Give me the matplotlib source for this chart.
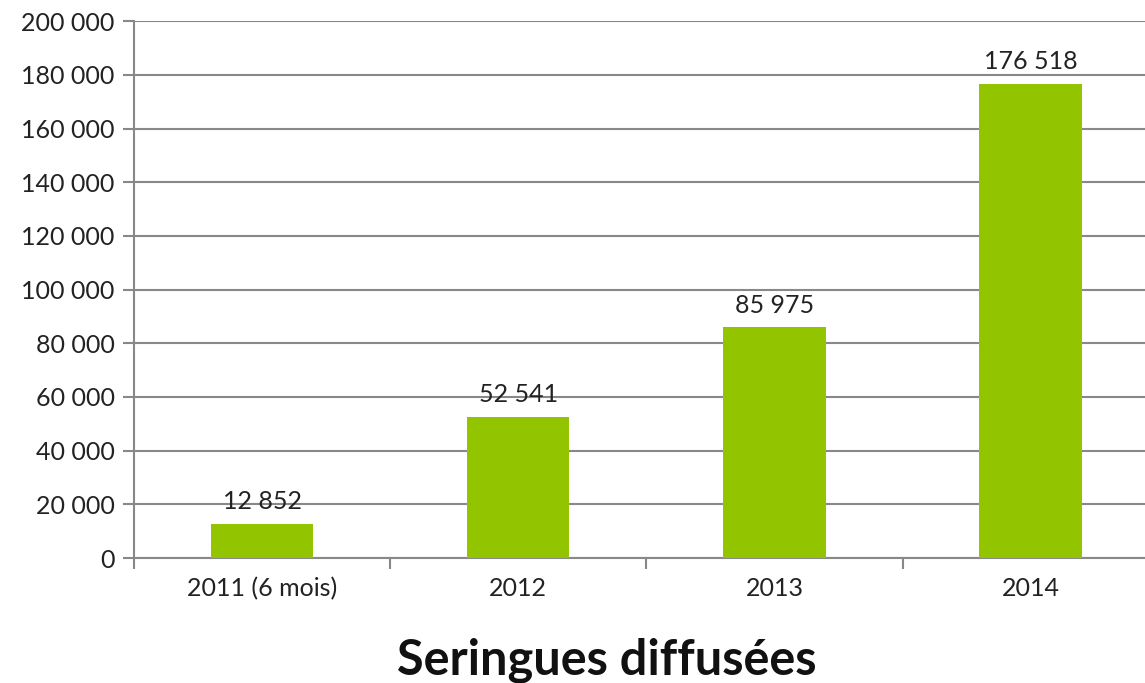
import matplotlib.pyplot as plt
import numpy as np

plt.rcParams['font.family'] = ['Lato', 'DejaVu Sans']

annees = ['2011 (6 mois)', '2012', '2013', '2014']
seringues = [12852, 52541, 85975, 176518]
yticks = np.arange(0, 200001, 20000)

def fmt(v):
    return '{:,}'.format(int(v)).replace(',', ' ')

fig = plt.figure(figsize=(11.45, 6.83), dpi=100)
ax = fig.add_axes([0.117, 0.183, 0.895, 0.786])

x = np.arange(len(annees))
ax.bar(x, seringues, width=0.4, color='#92c500', zorder=3)
for xi, v in zip(x, seringues):
    ax.text(xi, v + 4000, fmt(v), ha='center', va='bottom', fontsize=18, color='#222222')

ax.set_ylim(0, 200000)
ax.set_xlim(-0.5, len(annees) - 0.5)
ax.set_yticks(yticks)
ax.set_yticklabels([fmt(t) for t in yticks], fontsize=18, color='#222222')
ax.yaxis.grid(True, color='#888888', linewidth=1.5, zorder=0)

ax.set_xticks(x)
ax.set_xticklabels(annees, fontsize=18, color='#222222')
ax.tick_params(axis='x', length=0, pad=14)
ax.set_xticks(np.arange(-0.5, len(annees)), minor=True)
ax.tick_params(axis='x', which='minor', length=8, width=1.5, color='#888888')
ax.tick_params(axis='y', length=8, width=1.5, color='#888888', pad=6)

for s in ['top', 'right']:
    ax.spines[s].set_visible(False)
for s in ['left', 'bottom']:
    ax.spines[s].set_color('#888888')
    ax.spines[s].set_linewidth(1.5)

fig.text(0.53, 0.034, 'Seringues diffusées', ha='center', va='center',
         fontsize=35, fontweight='bold', color='#111111')

fig.savefig('out.png', dpi=100)
